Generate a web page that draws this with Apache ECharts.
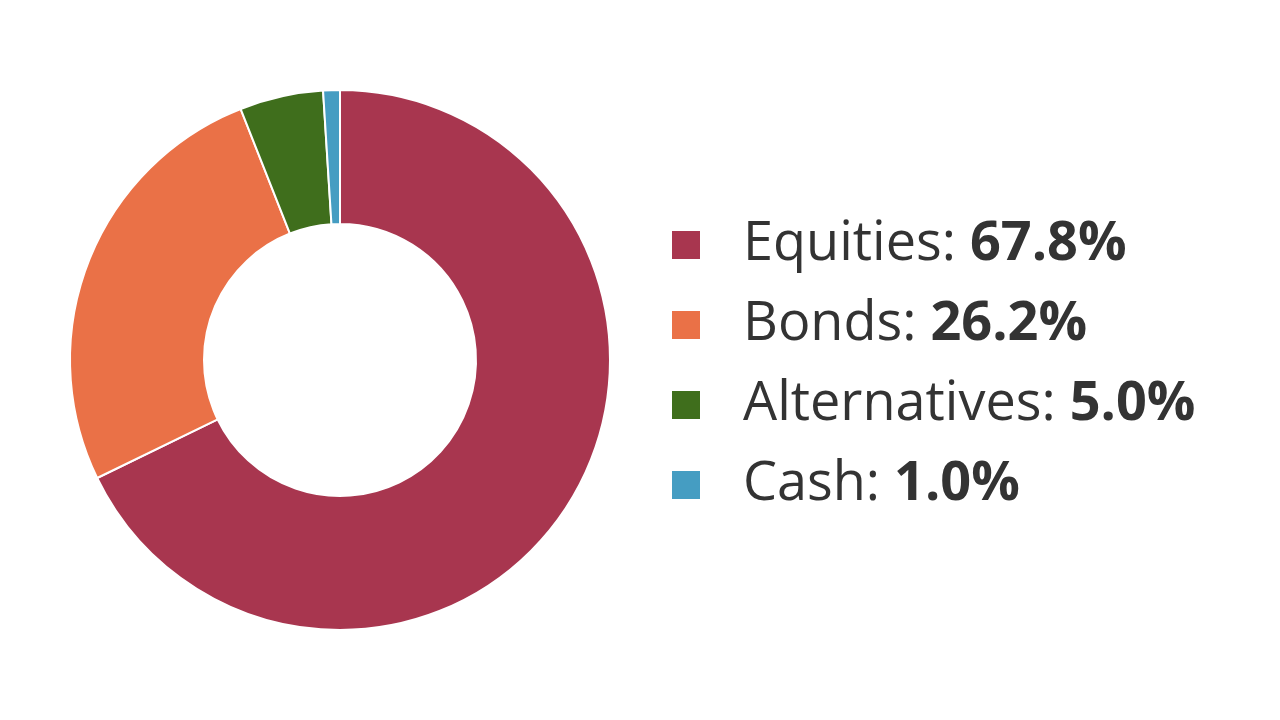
<!DOCTYPE html>
<html>
<head>
<meta charset="utf-8">
<script src="https://cdn.jsdelivr.net/npm/echarts@6/dist/echarts.min.js"></script>
<style>html,body{margin:0;padding:0;background:#fff}#c{width:1280px;height:720px}</style>
</head>
<body>
<div id="c"></div>
<script>
const categories = ['Equities', 'Bonds', 'Alternatives', 'Cash'];
const values = [67.8, 26.2, 5.0, 1.0];
const colors = ['#A8364F', '#EA7147', '#3F6E1C', '#459DC2'];

const chart = echarts.init(document.getElementById('c'));
const data = categories.map((c, i) => ({ name: c, value: values[i], itemStyle: { color: colors[i] } }));
chart.setOption({
  animation: false,
  legend: {
    orient: 'vertical',
    left: 670,
    top: 218,
    padding: 0,
    icon: 'rect',
    itemWidth: 30,
    itemHeight: 30,
    itemGap: 26,
    selectedMode: false,
    formatter: function (name) {
      const i = categories.indexOf(name);
      return '{a|' + name + ': }{b|' + values[i].toFixed(1) + '%}';
    },
    textStyle: {
      padding: [0, 0, 0, 37],
      rich: {
        a: { fontFamily: 'Open Sans', fontSize: 54, color: '#333' },
        b: { fontFamily: 'Open Sans', fontSize: 54, fontWeight: 'bold', color: '#333' }
      }
    }
  },
  series: [{
    type: 'pie',
    center: [340, 360],
    radius: [136, 270],
    startAngle: 90,
    clockwise: true,
    label: { show: false },
    labelLine: { show: false },
    itemStyle: { borderColor: '#fff', borderWidth: 2 },
    data: data
  }]
});
</script>
</body>
</html>
